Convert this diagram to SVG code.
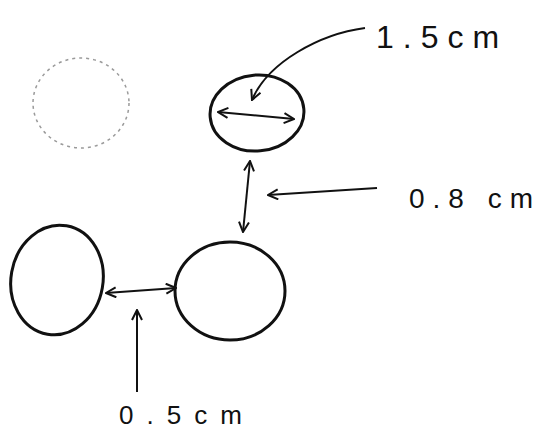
<svg xmlns="http://www.w3.org/2000/svg" width="550" height="439" viewBox="0 0 550 439">
<style>
.circ{fill:none;stroke:#111;stroke-width:3}
.faint{fill:none;stroke:#9a9a9a;stroke-width:1.5;stroke-dasharray:3 4}
.arr{fill:none;stroke:#111;stroke-width:2}
.lbl{font-family:"Liberation Sans",Arial,sans-serif;fill:#111}
</style>
<defs>
<marker id="ah" viewBox="0 0 12 12" refX="11" refY="6" markerWidth="12" markerHeight="12" markerUnits="userSpaceOnUse" orient="auto-start-reverse">
<path d="M1 1 L11 6 L1 11" fill="none" stroke="#111" stroke-width="2"/>
</marker>
</defs>
<rect width="550" height="439" fill="#fff"/>
<g id="node-faint"><ellipse class="faint" cx="81" cy="103" rx="48" ry="45"/></g>
<g id="node-top"><ellipse class="circ" cx="257" cy="113" rx="47" ry="38" transform="rotate(-5 257 113)"/></g>
<g id="node-bottom-left"><ellipse class="circ" cx="57" cy="280" rx="46" ry="55" transform="rotate(10 57 280)"/></g>
<g id="node-bottom-right"><ellipse class="circ" cx="230" cy="291" rx="55" ry="49"/></g>
<g id="connectors">
<line class="arr" x1="218" y1="112" x2="294" y2="119" marker-start="url(#ah)" marker-end="url(#ah)"/>
<path class="arr" d="M365 28 C320 34 268 62 252 100" marker-end="url(#ah)"/>
<line class="arr" x1="250" y1="161" x2="243" y2="232" marker-start="url(#ah)" marker-end="url(#ah)"/>
<line class="arr" x1="377" y1="188" x2="268" y2="195" marker-end="url(#ah)"/>
<line class="arr" x1="106" y1="293" x2="176" y2="288" marker-start="url(#ah)" marker-end="url(#ah)"/>
<line class="arr" x1="137" y1="392" x2="137" y2="310" marker-end="url(#ah)"/>
</g>
<g id="labels">
<text class="lbl" x="376" y="48" font-size="32" letter-spacing="9">1.5cm</text>
<text class="lbl" x="409" y="208" font-size="28" letter-spacing="8">0.8 cm</text>
<text class="lbl" x="119" y="424" font-size="26" letter-spacing="13">0.5cm</text>
</g>
</svg>
